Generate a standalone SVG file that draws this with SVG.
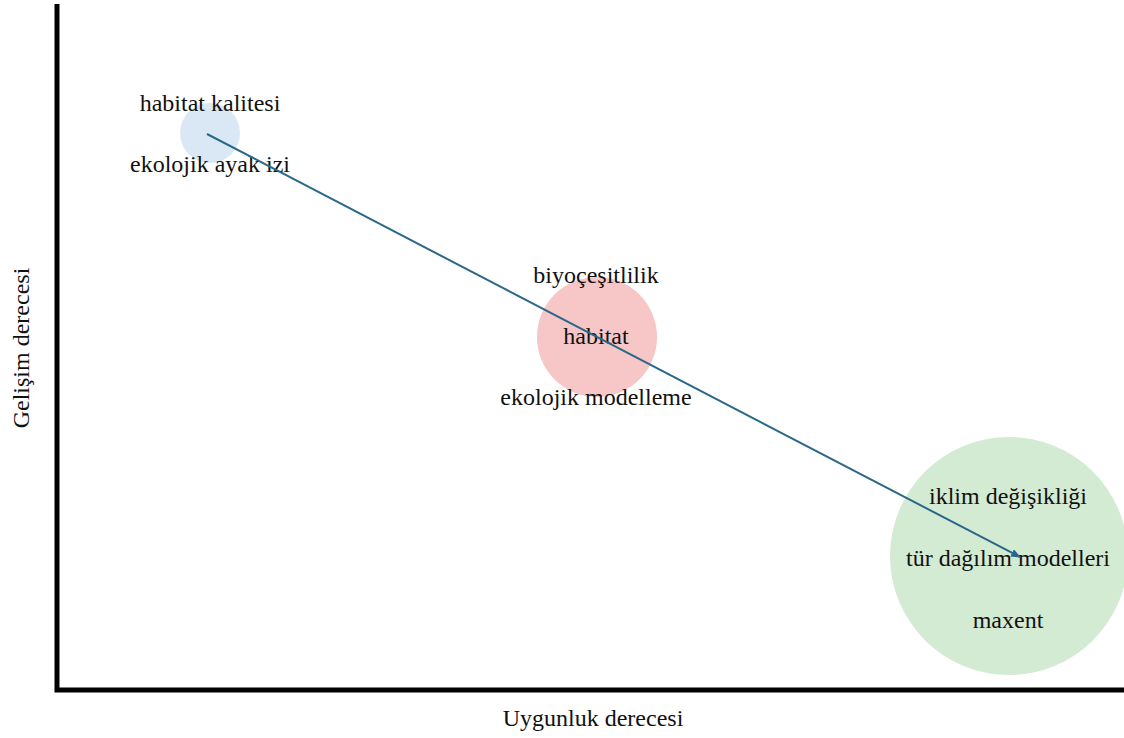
<svg xmlns="http://www.w3.org/2000/svg" width="1124" height="738" viewBox="0 0 1124 738">
<defs>
<style>
.t{font-family:"Times New Roman","Liberation Serif","DejaVu Serif",serif;font-size:24px;fill:#111;text-anchor:middle}
.axis{stroke:#000;stroke-width:5;fill:none}
.conn{stroke:#2a6889;stroke-width:2;fill:none}
</style>
<marker id="ah" markerWidth="10" markerHeight="8" refX="9" refY="4" orient="auto" markerUnits="userSpaceOnUse">
<path d="M0,0 L10,4 L0,8 Z" fill="#2a6889"/>
</marker>
</defs>
<rect width="1124" height="738" fill="#fff"/>
<g id="axes">
<path class="axis" d="M57,4 V690 H1124"/>
<text class="t" x="593" y="726">Uygunluk derecesi</text>
<text class="t" transform="translate(29,348) rotate(-90)">Gelişim derecesi</text>
</g>
<g id="node-blue">
<circle cx="210" cy="133" r="30" fill="#dae8f5"/>
<text class="t" x="210" y="111">habitat kalitesi</text>
<text class="t" x="210" y="172">ekolojik ayak izi</text>
</g>
<g id="node-pink">
<circle cx="597" cy="337" r="60" fill="#f7c6c7"/>
<text class="t" x="596" y="283">biyoçeşitlilik</text>
<text class="t" x="596" y="344">habitat</text>
<text class="t" x="596" y="405">ekolojik modelleme</text>
</g>
<g id="node-green">
<circle cx="1009" cy="556" r="119" fill="#d3ead3"/>
<text class="t" x="1008" y="504">iklim değişikliği</text>
<text class="t" x="1008" y="566">tür dağılım modelleri</text>
<text class="t" x="1008" y="628">maxent</text>
</g>
<g id="connectors">
<line class="conn" x1="207" y1="134" x2="1020" y2="557" marker-end="url(#ah)"/>
</g>
</svg>
